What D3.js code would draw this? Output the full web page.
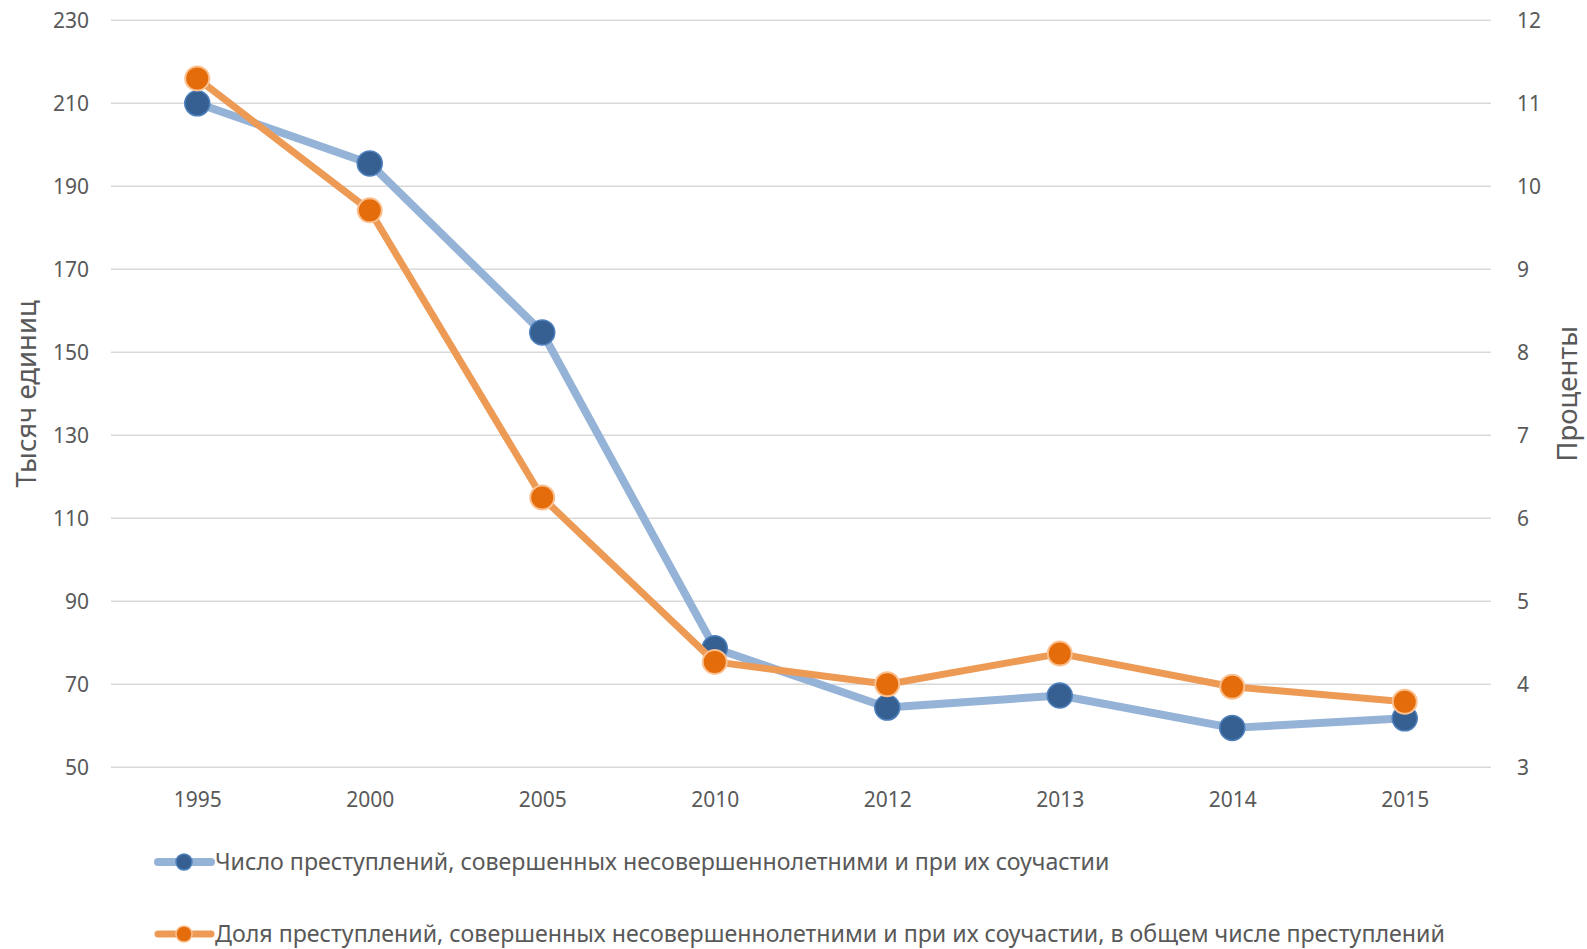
<!DOCTYPE html>
<html>
<head>
<meta charset="utf-8">
<script src="https://cdn.jsdelivr.net/npm/d3@7"></script>
<style>
  body { margin: 0; background: #fff; }
  text { font-family: "Noto Sans", sans-serif; fill: #595959; }
</style>
</head>
<body>
<svg></svg>
<script>
// data
let years = ["1995", "2000", "2005", "2010", "2012", "2013", "2014", "2015"];
let crimeCount = [210, 195.5, 154.8, 78.7, 64.4, 67.3, 59.5, 61.8];   // thousand units, left axis
let crimeShare = [11.3, 9.71, 6.25, 4.27, 4.0, 4.37, 3.97, 3.79];     // percent, right axis
let leftTicks = [50, 70, 90, 110, 130, 150, 170, 190, 210, 230];
let rightTicks = [3, 4, 5, 6, 7, 8, 9, 10, 11, 12];
let seriesNames = [
    "Число преступлений, совершенных несовершеннолетними и при их соучастии",
    "Доля преступлений, совершенных несовершеннолетними и при их соучастии, в общем числе преступлений"
];

let svg = d3.select("svg").attr("width", 1587).attr("height", 949);

let plotLeft = 111, plotRight = 1491, plotTop = 20.3, plotBottom = 767.3;

let x = d3.scalePoint().domain(years).range([plotLeft, plotRight]).padding(0.5);
let yL = d3.scaleLinear().domain([50, 230]).range([plotBottom, plotTop]);
let yR = d3.scaleLinear().domain([3, 12]).range([plotBottom, plotTop]);

// gridlines
svg.append("g")
    .selectAll("line")
    .data(leftTicks)
    .join("line")
    .attr("x1", plotLeft)
    .attr("x2", plotRight)
    .attr("y1", (d) => yL(d))
    .attr("y2", (d) => yL(d))
    .style("stroke", "#d9d9d9")
    .style("stroke-width", 1.5);

// left axis
let axL = svg.append("g")
    .attr("transform", `translate(${plotLeft - 22},0)`)
    .call(d3.axisLeft(yL).tickValues(leftTicks).tickSize(0).tickPadding(0));
axL.select(".domain").remove();
axL.selectAll("text").style("font-size", "21px").attr("dy", "0.35em");

// right axis
let axR = svg.append("g")
    .attr("transform", `translate(${plotRight + 26},0)`)
    .call(d3.axisRight(yR).tickValues(rightTicks).tickSize(0).tickPadding(0));
axR.select(".domain").remove();
axR.selectAll("text").style("font-size", "21px").attr("dy", "0.35em");

// bottom axis
let axB = svg.append("g")
    .attr("transform", `translate(0,${plotBottom + 32})`)
    .call(d3.axisBottom(x).tickSize(0).tickPadding(0));
axB.select(".domain").remove();
axB.selectAll("text").style("font-size", "21px").attr("dy", "0.35em");

// axis titles
svg.append("text")
    .attr("transform", `translate(36,${(plotTop + plotBottom) / 2}) rotate(-90)`)
    .attr("text-anchor", "middle")
    .style("font-size", "27.5px")
    .text("Тысяч единиц");
svg.append("text")
    .attr("transform", `translate(1577,${(plotTop + plotBottom) / 2}) rotate(-90)`)
    .attr("text-anchor", "middle")
    .style("font-size", "27.5px")
    .text("Проценты");

// lines
let lineL = d3.line().x((d, i) => x(years[i])).y((d) => yL(d));
let lineR = d3.line().x((d, i) => x(years[i])).y((d) => yR(d));

svg.append("path")
    .attr("d", lineL(crimeCount))
    .style("fill", "none")
    .style("stroke", "#95b3d7")
    .style("stroke-width", 8)
    .style("stroke-linejoin", "round")
    .style("stroke-linecap", "round");

svg.append("g")
    .selectAll("circle")
    .data(crimeCount)
    .join("circle")
    .attr("cx", (d, i) => x(years[i]))
    .attr("cy", (d) => yL(d))
    .attr("r", 12.5)
    .style("fill", "#366092")
    .style("stroke", "#4f81bd")
    .style("stroke-width", 1.5);

svg.append("path")
    .attr("d", lineR(crimeShare))
    .style("fill", "none")
    .style("stroke", "#ed9a55")
    .style("stroke-width", 7)
    .style("stroke-linejoin", "round")
    .style("stroke-linecap", "round");

svg.append("g")
    .selectAll("circle")
    .data(crimeShare)
    .join("circle")
    .attr("cx", (d, i) => x(years[i]))
    .attr("cy", (d) => yR(d))
    .attr("r", 12)
    .style("fill", "#e46c0a")
    .style("stroke", "#fac090")
    .style("stroke-width", 2);

// legend
let legendStyles = [
    { line: "#95b3d7", lw: 8, fill: "#366092", stroke: "#4f81bd", r: 8, y: 862 },
    { line: "#ed9a55", lw: 7, fill: "#e46c0a", stroke: "#fac090", r: 8, y: 934 }
];
let legend = svg.append("g");
seriesNames.forEach((name, i) => {
    let s = legendStyles[i];
    legend.append("line")
        .attr("x1", 158).attr("x2", 211)
        .attr("y1", s.y).attr("y2", s.y)
        .style("stroke", s.line)
        .style("stroke-width", s.lw)
        .style("stroke-linecap", "round");
    legend.append("circle")
        .attr("cx", 184).attr("cy", s.y).attr("r", s.r)
        .style("fill", s.fill)
        .style("stroke", s.stroke)
        .style("stroke-width", 1.5);
    legend.append("text")
        .attr("x", 215).attr("y", s.y)
        .attr("dy", "0.35em")
        .style("font-size", "23.2px")
        .text(name);
});
</script>
</body>
</html>
